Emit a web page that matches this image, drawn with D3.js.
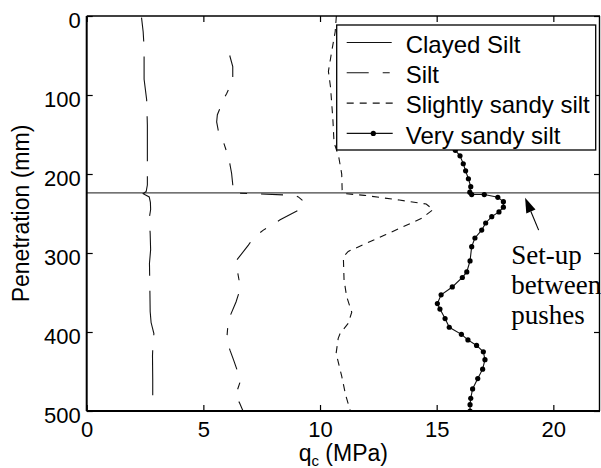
<!DOCTYPE html>
<html>
<head>
<meta charset="utf-8">
<script src="https://cdn.jsdelivr.net/npm/d3@7/dist/d3.min.js"></script>
<style>
  html, body { margin: 0; padding: 0; background: #fff; }
  svg { display: block; }
</style>
</head>
<body>
<svg id="chart" width="601" height="468"></svg>
<script>
// ---------------- DATA ----------------
const xTicks = [0, 5, 10, 15, 20];
const yTicks = [0, 100, 200, 300, 400, 500];
const xDomain = [0, 22];
const yDomain = [0, 500];

const seriesNames = ["Clayed Silt", "Silt", "Slightly sandy silt", "Very sandy silt"];

const clayedDepth = [2, 20, 40, 80, 106, 138, 160, 190, 214, 222, 225, 229, 236, 245, 256, 275, 296, 313, 351, 374, 388, 402, 415, 430, 460, 500];
const clayedQc    = [2.35, 2.42, 2.46, 2.46, 2.57, 2.6, 2.6, 2.6, 2.6, 2.55, 2.42, 2.68, 2.73, 2.74, 2.68, 2.72, 2.74, 2.69, 2.71, 2.72, 2.76, 2.88, 2.84, 2.82, 2.83, 2.83];

const siltDepth = [50, 64, 82, 98, 106, 125, 134, 145, 153, 172, 180, 199, 222, 224, 227, 229, 235, 240, 246, 258, 271, 281, 290, 309, 313, 336, 349, 362, 385, 410, 423, 435, 461, 482, 489, 500];
const siltQc    = [6.13, 6.26, 6.26, 6.0, 5.86, 5.6, 5.57, 5.64, 5.79, 6.0, 6.09, 6.21, 6.29, 6.31, 8.9, 9.07, 9.31, 9.29, 9.07, 8.29, 7.57, 7.14, 6.93, 6.43, 6.4, 6.54, 6.54, 6.4, 6.07, 6.0, 6.14, 6.29, 6.6, 6.36, 6.54, 6.7];

const slightDepth = [0, 20, 45, 70, 90, 130, 160, 178, 200, 222, 225, 227, 233, 238, 245, 256, 277, 298, 305, 334, 355, 375, 389, 402, 408, 427, 456, 480, 500];
const slightQc    = [10.7, 10.65, 10.5, 10.36, 10.45, 10.55, 10.6, 10.8, 10.93, 10.95, 11.1, 11.9, 13.4, 14.55, 14.85, 14.36, 12.8, 11.21, 11.0, 11.03, 11.14, 11.36, 11.21, 10.86, 10.78, 10.69, 10.93, 11.1, 11.3];

const veryDepth = [20, 60, 100, 140, 170, 177, 187, 196, 206, 216, 223, 226, 226, 229.5, 235, 242, 248, 254, 262, 271, 281, 292, 310, 324, 331, 343, 353, 364, 371, 383, 394, 403, 410, 417, 425, 435, 447, 459, 472, 484, 492, 500];
const veryQc    = [15.7, 15.6, 15.7, 15.8, 15.8, 16.0, 16.14, 16.24, 16.36, 16.46, 16.42, 16.5, 17.04, 17.62, 17.86, 17.86, 17.67, 17.36, 17.1, 16.93, 16.64, 16.5, 16.43, 16.29, 16.1, 15.67, 15.19, 15.03, 15.14, 15.36, 15.54, 16.06, 16.34, 16.71, 17.0, 17.07, 16.97, 16.76, 16.54, 16.46, 16.43, 16.43];

const pushDepth = 224;            // set-up line between pushes
const annotationLines = ["Set-up", "between", "pushes"];
const arrowTip = {qc: 18.79, d: 230};
const arrowTail = {qc: 19.37, d: 271};
const annotationAnchor = {qc: 18.2, d: 314};

// ---------------- LAYOUT ----------------
(function () {
const svg = d3.select("#chart");
const pL = 86.7, pT = 16, pR = 600, pB = 411;
const x = d3.scaleLinear().domain(xDomain).range([pL, pR]);
const y = d3.scaleLinear().domain(yDomain).range([pT, pB]);

const SANS = "'Liberation Sans', Arial, Helvetica, sans-serif";
const SERIF = "'Liberation Serif', 'Times New Roman', serif";

svg.append("defs").append("clipPath").attr("id", "plotclip")
  .append("rect").attr("x", pL).attr("y", pT).attr("width", pR - pL).attr("height", pB - pT);

const styles = [
  {dash: "45,15", offset: 21, marker: false},
  {dash: "22,14,7,14", offset: 0, marker: false},
  {dash: "7,6", offset: 0, marker: false},
  {dash: null, offset: 0, marker: true}
];
const series = [
  {depth: clayedDepth, qc: clayedQc},
  {depth: siltDepth, qc: siltQc},
  {depth: slightDepth, qc: slightQc},
  {depth: veryDepth, qc: veryQc}
].map((s, i) => ({name: seriesNames[i], style: styles[i], pts: s.depth.map((d, j) => ({d, v: s.qc[j]}))}));

const plot = svg.append("g").attr("clip-path", "url(#plotclip)");

plot.append("line")
  .attr("x1", x(xDomain[0])).attr("x2", x(xDomain[1]))
  .attr("y1", y(pushDepth)).attr("y2", y(pushDepth))
  .attr("stroke", "#444").attr("stroke-width", 1.2);

const line = d3.line().x(p => x(p.v)).y(p => y(p.d));
series.forEach(s => {
  plot.append("path").datum(s.pts)
    .attr("d", line)
    .attr("fill", "none")
    .attr("stroke", "#111")
    .attr("stroke-width", 1.1)
    .attr("stroke-dasharray", s.style.dash)
    .attr("stroke-dashoffset", s.style.offset);
  if (s.style.marker) {
    plot.selectAll(null).data(s.pts).enter().append("circle")
      .attr("cx", p => x(p.v)).attr("cy", p => y(p.d)).attr("r", 2.6).attr("fill", "#000");
  }
});

function styleAxis(g) {
  g.select(".domain").remove();
  g.selectAll(".tick line").attr("stroke", "#000").attr("stroke-width", 1.2);
  g.selectAll("text").attr("font-family", SANS).attr("font-size", 22).attr("fill", "#000");
}
const gBottom = svg.append("g").attr("transform", `translate(0,${pB})`)
  .call(d3.axisBottom(x).tickValues(xTicks).tickSizeInner(-6).tickSizeOuter(0).tickFormat(d3.format("d")));
styleAxis(gBottom);
gBottom.selectAll("text").attr("y", 26).attr("dy", null);

const gTop = svg.append("g").attr("transform", `translate(0,${pT})`)
  .call(d3.axisTop(x).tickValues(xTicks).tickSizeInner(-6).tickSizeOuter(0).tickFormat(""));
styleAxis(gTop);

const gLeft = svg.append("g").attr("transform", `translate(${pL},0)`)
  .call(d3.axisLeft(y).tickValues(yTicks).tickSizeInner(-6).tickSizeOuter(0).tickFormat(d3.format("d")));
styleAxis(gLeft);
gLeft.selectAll("text").attr("x", -6).attr("dy", null).attr("y", 11);

const gRight = svg.append("g").attr("transform", `translate(${pR},0)`)
  .call(d3.axisRight(y).tickValues(yTicks).tickSizeInner(-6).tickSizeOuter(0).tickFormat(""));
styleAxis(gRight);

svg.append("line").attr("x1", pL).attr("x2", pR).attr("y1", pT).attr("y2", pT).attr("stroke", "#000").attr("stroke-width", 1.4);
svg.append("line").attr("x1", pR - 0.5).attr("x2", pR - 0.5).attr("y1", pT).attr("y2", pB).attr("stroke", "#000").attr("stroke-width", 1.4);
svg.append("line").attr("x1", pL).attr("x2", pR).attr("y1", pB).attr("y2", pB).attr("stroke", "#000").attr("stroke-width", 2);
svg.append("line").attr("x1", pL).attr("x2", pL).attr("y1", pT).attr("y2", pB).attr("stroke", "#000").attr("stroke-width", 2);

const xl = svg.append("text")
  .attr("x", (pL + pR) / 2).attr("y", 461)
  .attr("text-anchor", "middle").attr("font-family", SANS).attr("font-size", 23).attr("fill", "#000");
xl.append("tspan").text("q");
xl.append("tspan").attr("font-size", 15).attr("dy", 5).text("c");
xl.append("tspan").attr("dy", -5).text(" (MPa)");

svg.append("text")
  .attr("transform", `translate(29,${(pT + pB) / 2}) rotate(-90)`)
  .attr("text-anchor", "middle").attr("font-family", SANS).attr("font-size", 23).attr("fill", "#000")
  .text("Penetration (mm)");

const tx = x(arrowTip.qc), ty = y(arrowTip.d), sx = x(arrowTail.qc), sy = y(arrowTail.d);
const ang = Math.atan2(ty - sy, tx - sx);
const headLen = 15, headHalf = 5;
const bx = tx - headLen * Math.cos(ang), by = ty - headLen * Math.sin(ang);
svg.append("line").attr("x1", sx).attr("y1", sy).attr("x2", bx).attr("y2", by)
  .attr("stroke", "#000").attr("stroke-width", 1.1);
svg.append("path")
  .attr("d", d3.line()([
    [tx, ty],
    [bx + headHalf * Math.sin(ang), by - headHalf * Math.cos(ang)],
    [bx - headHalf * Math.sin(ang), by + headHalf * Math.cos(ang)]
  ]) + "Z")
  .attr("fill", "#000");

svg.append("g").selectAll("text").data(annotationLines).enter().append("text")
  .attr("x", x(annotationAnchor.qc))
  .attr("y", (t, i) => y(annotationAnchor.d) + i * 30)
  .attr("font-family", SERIF).attr("font-size", 27).attr("fill", "#000")
  .text(t => t);

const lg = svg.append("g").attr("transform", "translate(336.7,25)");
lg.append("rect").attr("x", 0).attr("y", 0).attr("width", 259).attr("height", 125)
  .attr("fill", "#fff").attr("stroke", "#000").attr("stroke-width", 1.3);
series.forEach((s, i) => {
  const ly = 17.5 + i * 30.3;
  lg.append("line").attr("x1", 10).attr("x2", 56).attr("y1", ly).attr("y2", ly)
    .attr("stroke", "#111").attr("stroke-width", 1.1)
    .attr("stroke-dasharray", s.style.dash);
  if (s.style.marker) {
    lg.append("circle").attr("cx", 36.6).attr("cy", ly).attr("r", 2.6).attr("fill", "#000");
  }
  lg.append("text").attr("x", 69).attr("y", ly + 10.3)
    .attr("font-family", SANS).attr("font-size", 24).attr("fill", "#000")
    .text(s.name);
});
})();
</script>
</body>
</html>
